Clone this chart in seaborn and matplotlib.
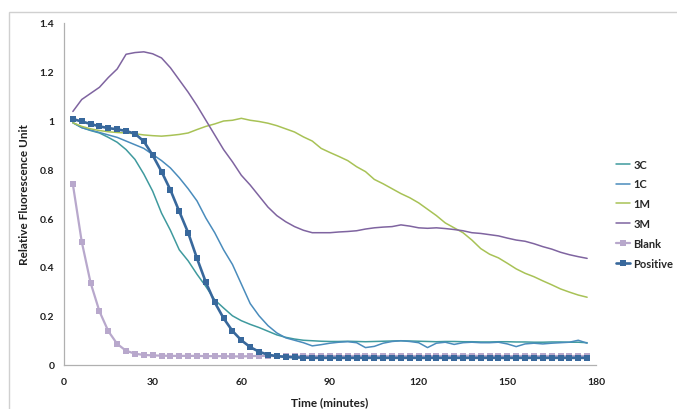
import numpy as np
import pandas as pd
import matplotlib
matplotlib.use("Agg")
import matplotlib.pyplot as plt
import seaborn as sns
from matplotlib.patches import Rectangle
from matplotlib.ticker import FuncFormatter

# time points (minutes), one reading every 3 min
time_min = [3, 6, 9, 12, 15, 18, 21, 24, 27, 30, 33, 36, 39, 42, 45, 48, 51, 54, 57, 60,
            63, 66, 69, 72, 75, 78, 81, 84, 87, 90, 93, 96, 99, 102, 105, 108, 111, 114, 117, 120,
            123, 126, 129, 132, 135, 138, 141, 144, 147, 150, 153, 156, 159, 162, 165, 168, 171, 174, 177]

c3 = [0.99, 0.97, 0.958, 0.948, 0.93, 0.91, 0.88, 0.84, 0.78, 0.71, 0.62, 0.55, 0.47, 0.425, 0.37, 0.32, 0.265, 0.232, 0.2, 0.18,
      0.165, 0.152, 0.137, 0.122, 0.112, 0.105, 0.1, 0.098, 0.096, 0.095, 0.095, 0.096, 0.095, 0.094, 0.095, 0.096, 0.097, 0.098, 0.097, 0.096,
      0.095, 0.094, 0.095, 0.095, 0.094, 0.094, 0.093, 0.093, 0.094, 0.094, 0.093, 0.093, 0.092, 0.092, 0.093, 0.093, 0.092, 0.092, 0.09]
c1 = [0.99, 0.97, 0.96, 0.95, 0.94, 0.93, 0.915, 0.9, 0.885, 0.86, 0.835, 0.805, 0.765, 0.72, 0.67, 0.6, 0.54, 0.47, 0.41, 0.33,
      0.25, 0.2, 0.16, 0.13, 0.11, 0.1, 0.09, 0.077, 0.082, 0.088, 0.092, 0.094, 0.09, 0.07, 0.075, 0.088, 0.095, 0.098, 0.095, 0.09,
      0.07, 0.088, 0.092, 0.083, 0.09, 0.092, 0.09, 0.09, 0.092, 0.085, 0.074, 0.085, 0.088, 0.085, 0.088, 0.09, 0.092, 0.1, 0.088]
m1 = [0.99, 0.975, 0.965, 0.958, 0.953, 0.95, 0.948, 0.945, 0.94, 0.937, 0.935, 0.938, 0.942, 0.948, 0.962, 0.975, 0.985, 0.997, 1.0, 1.008,
      1.0, 0.995, 0.988, 0.978, 0.965, 0.952, 0.932, 0.915, 0.885, 0.868, 0.852, 0.835, 0.81, 0.79, 0.758, 0.74, 0.72, 0.7, 0.683, 0.662,
      0.636, 0.61, 0.58, 0.56, 0.54, 0.51, 0.475, 0.452, 0.437, 0.415, 0.392, 0.374, 0.36, 0.343, 0.327, 0.31, 0.297, 0.285, 0.276]
m3 = [1.036, 1.085, 1.11, 1.135, 1.175, 1.21, 1.27, 1.277, 1.28, 1.272, 1.255, 1.215, 1.165, 1.115, 1.06, 1.0, 0.94, 0.88, 0.83, 0.775,
      0.735, 0.69, 0.645, 0.61, 0.585, 0.565, 0.55, 0.54, 0.54, 0.54, 0.543, 0.545, 0.548, 0.555, 0.56, 0.563, 0.565, 0.572, 0.567, 0.56,
      0.558, 0.56, 0.557, 0.553, 0.548, 0.54, 0.537, 0.532, 0.527, 0.518, 0.51, 0.505, 0.495, 0.483, 0.473, 0.46, 0.45, 0.442, 0.435]
blank = [0.738, 0.503, 0.335, 0.218, 0.137, 0.085, 0.057, 0.045, 0.04, 0.038, 0.037, 0.036, 0.036, 0.036, 0.036, 0.035, 0.035, 0.035, 0.034, 0.034,
         0.035, 0.036, 0.036, 0.035, 0.035, 0.035, 0.036, 0.035, 0.035, 0.036, 0.035, 0.035, 0.036, 0.036, 0.035, 0.035, 0.036, 0.035, 0.035, 0.036,
         0.035, 0.035, 0.036, 0.035, 0.036, 0.037, 0.035, 0.035, 0.036, 0.035, 0.035, 0.036, 0.035, 0.035, 0.036, 0.035, 0.035, 0.036, 0.035]
positive = [1.005, 0.995, 0.985, 0.975, 0.968, 0.963, 0.956, 0.945, 0.914, 0.857, 0.79, 0.715, 0.627, 0.54, 0.435, 0.337, 0.255, 0.19, 0.138, 0.1,
            0.072, 0.053, 0.041, 0.035, 0.032, 0.03, 0.029, 0.028, 0.028, 0.028, 0.028, 0.028, 0.028, 0.028, 0.028, 0.028, 0.028, 0.028, 0.028, 0.028,
            0.028, 0.028, 0.028, 0.028, 0.028, 0.028, 0.028, 0.028, 0.028, 0.028, 0.028, 0.028, 0.028, 0.028, 0.028, 0.028, 0.028, 0.028, 0.028]

labels = ["3C", "1C", "1M", "3M", "Blank", "Positive"]
series = [c3, c1, m1, m3, blank, positive]
colors = ["#3f9a9e", "#4a8cbc", "#a8c256", "#7f64a0", "#b8a8cc", "#38689c"]

sns.set_style("white")
plt.rcParams["font.family"] = ["Lato", "DejaVu Sans"]
plt.rcParams["font.weight"] = "bold"

fig = plt.figure(figsize=(6.77, 4.10), dpi=100)
ax = fig.add_axes([64 / 677, 1 - 365.7 / 410, (596 - 64) / 677, (365.7 - 23.5) / 410])

# chart area frame (only top and left edges show in the picture)
fig.patches.append(Rectangle((9 / 677, -0.2), 1.2, 1.2 - 13 / 410,
                             transform=fig.transFigure, fill=False,
                             edgecolor="#d0d0d0", linewidth=1.0))

for lab, vals, col in zip(labels, series, colors):
    df = pd.DataFrame({"t": time_min, "v": vals})
    if lab == "Positive":
        sns.lineplot(data=df, x="t", y="v", ax=ax, color=col, lw=1.9,
                     marker="s", markersize=4.5, markeredgewidth=0, label=lab)
    elif lab == "Blank":
        sns.lineplot(data=df, x="t", y="v", ax=ax, color=col, lw=1.6,
                     marker="s", markersize=4.5, markeredgewidth=0, label=lab)
    else:
        sns.lineplot(data=df, x="t", y="v", ax=ax, color=col, lw=1.1, label=lab)

ax.set_xlim(0, 180)
ax.set_ylim(0, 1.4)
ax.set_xticks([0, 30, 60, 90, 120, 150, 180])
ax.set_yticks([0, 0.2, 0.4, 0.6, 0.8, 1.0, 1.2, 1.4])
ax.yaxis.set_major_formatter(FuncFormatter(lambda v, p: "%g" % round(v, 1)))

for s in ["top", "right"]:
    ax.spines[s].set_visible(False)
for s in ["left", "bottom"]:
    ax.spines[s].set_color("#b0b0b0")
    ax.spines[s].set_linewidth(0.9)
ax.tick_params(axis="both", length=3, width=0.8, color="#b0b0b0",
               labelsize=7.5, labelcolor="#202020", pad=4, direction="out")
ax.tick_params(axis="x", pad=6)
for t in ax.get_xticklabels() + ax.get_yticklabels():
    t.set_fontweight("bold")

ax.set_xlabel("Time (minutes)", fontsize=8.5, fontweight="bold", color="#202020")
ax.set_ylabel("Relative Fluorescence Unit", fontsize=8.5, fontweight="bold", color="#202020")
ax.xaxis.set_label_coords(0.5, -0.092)
ax.yaxis.set_label_coords(-0.064, 0.5)

h, l = ax.get_legend_handles_labels()
ax.get_legend().remove()
fig.legend(h, l, loc="upper left", bbox_to_anchor=(610 / 677, 1 - 154 / 410),
           frameon=False, handlelength=1.3, handletextpad=0.3,
           labelspacing=0.8, borderpad=0, prop={"weight": "bold", "size": 8})

fig.savefig("out.png", dpi=100)
